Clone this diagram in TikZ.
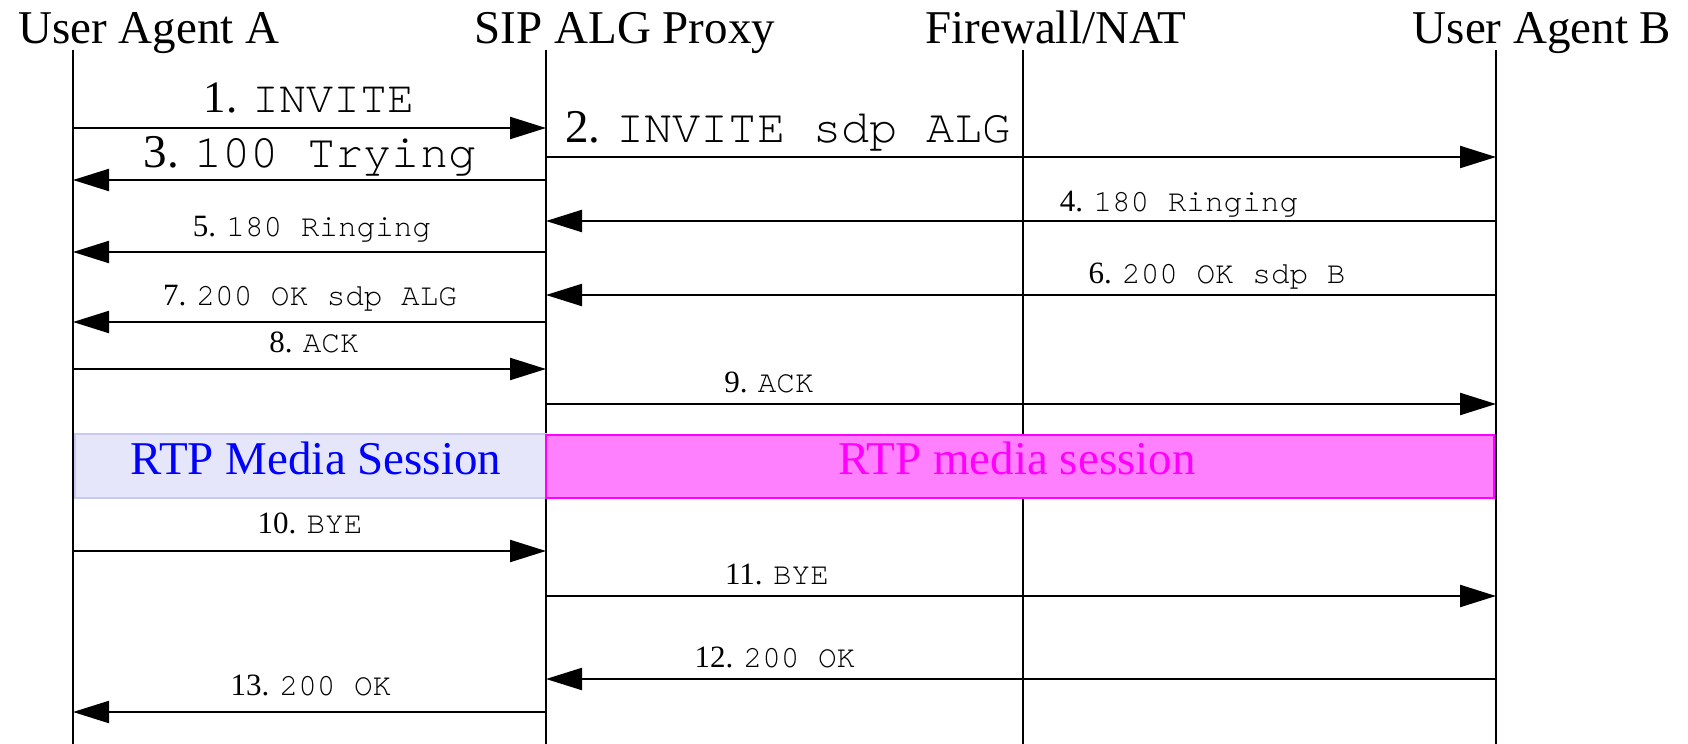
\documentclass[tikz,border=0pt]{standalone}
\usepackage{fontspec}
\setmainfont{Liberation Serif}
\setmonofont{texgyrecursor-regular.otf}
\usetikzlibrary{arrows.meta}
\definecolor{rtpblue}{HTML}{0000FF}
\definecolor{rtpbluebg}{HTML}{E6E6FA}
\definecolor{rtpblueln}{HTML}{C8C8F2}
\definecolor{rtpmag}{HTML}{FF00FF}
\definecolor{rtpmagbg}{HTML}{FF80FF}

\begin{document}
\begin{tikzpicture}[
  x=0.5pt, y=-0.5pt,
  actor/.style={font=\fontsize{23.5}{28}\selectfont, anchor=base, inner sep=0pt},
  life/.style={line width=1pt},
  msg/.style={-{Triangle[length=18pt, width=11pt]}, line width=1.1pt},
  bigtag/.style={font=\fontsize{23.5}{28}\selectfont, anchor=base, inner sep=0pt},
  tag/.style={font=\fontsize{15.5}{18}\selectfont, anchor=base, inner sep=0pt},
  sess/.style={font=\fontsize{23.5}{28}\selectfont, anchor=base, inner sep=0pt},
]
\useasboundingbox (0,0) rectangle (1688,744);

% ---------------- actors and lifelines -----------------------------
\node[actor] (ua)  at (149,43)  {User Agent A};
\node[actor] (alg) at (625,43)  {SIP ALG Proxy};
\node[actor] (fw)  at (1056,43) {Firewall/NAT};
\node[actor] (ub)  at (1542,43) {User Agent B};

\foreach \n/\x in {a/73, p/546, f/1023, b/1496} {
  \coordinate (\n) at (\x,50);
  \draw[life] (\n) -- (\n |- 0,744);
}

% ---------------- media sessions -----------------------------------
\filldraw[fill=rtpbluebg, draw=rtpblueln, line width=0.6pt] (75,434) rectangle (546,498);
\filldraw[fill=rtpmagbg, draw=rtpmag, line width=0.6pt] (546,435) rectangle (1494,498);
\node[sess, text=rtpblue] (rtpa) at (316,474) {RTP Media Session};
\node[sess, text=rtpmag]  (rtpb) at (1017,474) {RTP media session};

% ---------------- messages -----------------------------------------
\foreach \n/\y in {1/128, 2/157, 3/180, 4/221, 5/252, 6/295, 7/322,
                   8/369, 9/404, 10/551, 11/596, 12/679, 13/712}
  \coordinate (m\n) at (0,\y);

\foreach \n/\s/\t in {1/a/p, 2/p/b, 3/p/a, 4/b/p, 5/p/a, 6/b/p, 7/p/a,
                      8/a/p, 9/p/b, 10/a/p, 11/p/b, 12/b/p, 13/p/a}
  \draw[msg] (\s |- m\n) -- (\t |- m\n);

\node[bigtag, font=\fontsize{22.5}{27}\selectfont] (l1) at (309,112) {1. \texttt{INVITE}};
\node[bigtag] (l2) at (788,142) {2. \texttt{INVITE sdp ALG}};
\node[bigtag] (l3) at (310,167) {3. \texttt{100 Trying}};
\node[tag] (l4)  at (1179,211) {4. \texttt{180 Ringing}};
\node[tag] (l5)  at (312,236)  {5. \texttt{180 Ringing}};
\node[tag] (l6)  at (1217,283) {6. \texttt{200 OK sdp B}};
\node[tag] (l7)  at (310,305)  {7. \texttt{200 OK sdp ALG}};
\node[tag] (l8)  at (314,352)  {8. \texttt{ACK}};
\node[tag] (l9)  at (769,392)  {9. \texttt{ACK}};
\node[tag] (l10) at (310,533)  {10. \texttt{BYE}};
\node[tag] (l11) at (777,584)  {11. \texttt{BYE}};
\node[tag] (l12) at (775,667)  {12. \texttt{200 OK}};
\node[tag] (l13) at (311,695)  {13. \texttt{200 OK}};

\end{tikzpicture}
\end{document}
